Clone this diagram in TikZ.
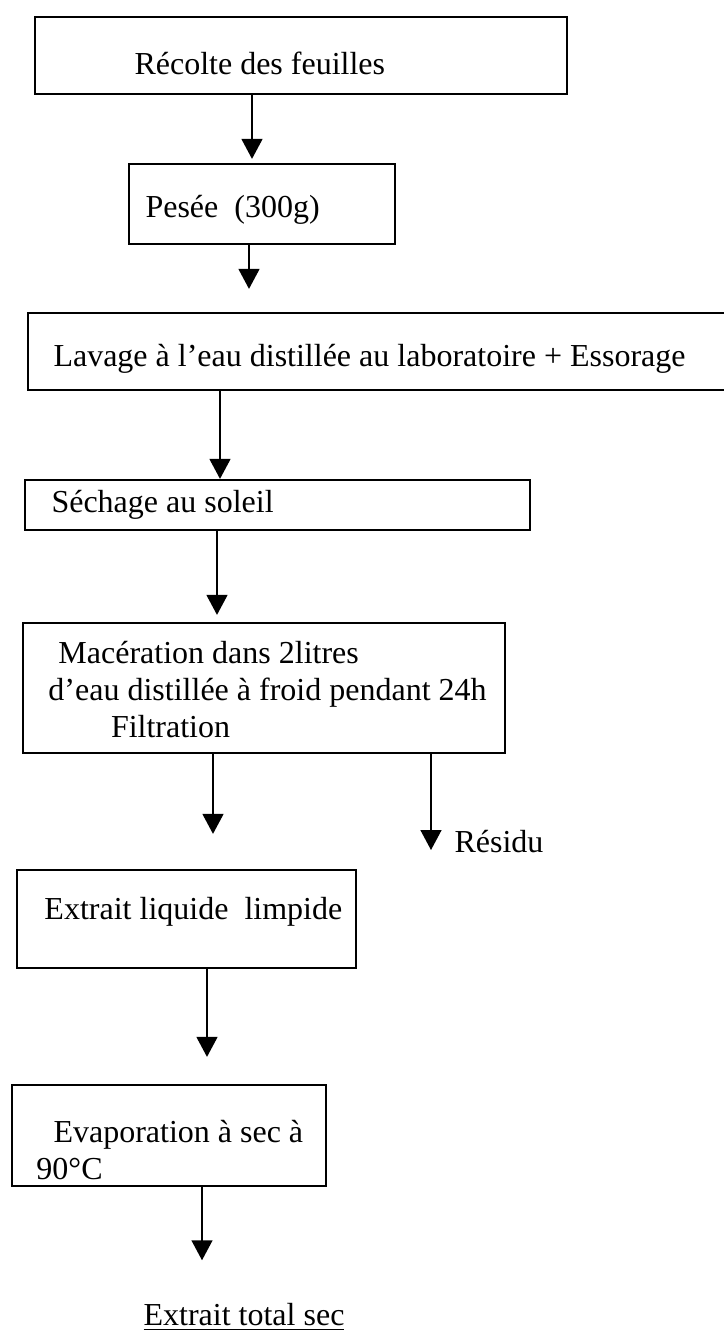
\documentclass[tikz,border=0pt]{standalone}
\usepackage{fontspec}
\setmainfont{Liberation Serif}
\usetikzlibrary{arrows.meta, fit}

\begin{document}
\begin{tikzpicture}[x=0.4pt, y=-0.4pt,
  txt/.style={font=\fontsize{12.8}{14.8}\selectfont, inner sep=0pt, anchor=west, align=left},
  stepbox/.style={draw, line width=0.9pt, inner sep=0pt},
  arr/.style={-{Triangle[width=8.4pt,length=8pt]}, line width=0.6pt}]
\useasboundingbox (0,0) rectangle (723,1333);
% les etapes
\node[stepbox, fit={(35,17) (567,94)}] (recolte) {};
\node[txt] (recolteT) at (134,63) {Récolte des feuilles};
\node[stepbox, fit={(129,164) (395,244)}] (pesee) {};
\node[txt] (peseeT) at (145,210) {Pesée\ \ (300g)};
\node[stepbox, fit={(28,313) (740,390)}] (lavage) {};
\node[txt] (lavageT) at (53,359) {Lavage à l’eau distillée au laboratoire + Essorage};
\node[stepbox, fit={(25,480) (530,530)}] (sechage) {};
\node[txt] (sechageT) at (51,505) {Séchage au soleil};
\node[stepbox, fit={(23,623) (505,753)}] (maceration) {};
\node[txt] (macerationT) at (48,690) {\hspace*{4pt}Macération dans 2litres\\d’eau distillée à froid pendant 24h\\\hspace*{25pt}Filtration};
\node[stepbox, fit={(17,870) (356,968)}] (extrait) {};
\node[txt] (extraitT) at (44,912) {Extrait liquide\ \ limpide};
\node[stepbox, fit={(12,1085) (326,1186)}] (evap) {};
\node[txt] (evapT) at (36,1150) {\hspace*{6.8pt}Evaporation à sec à\\90°C};
\node[txt] (residu) at (454,842) {Résidu};
\node[txt, anchor=center] (final) at (244,1317) {\underline{Extrait total sec}};
% les fleches
\coordinate (a1) at (252,0);
\coordinate (a2) at (249,0);
\coordinate (a3) at (220,0);
\coordinate (a4) at (217,0);
\coordinate (a5) at (213,0);
\coordinate (a6) at (207,0);
\coordinate (a7) at (202,0);
\coordinate (res) at (431,850);
\draw[arr, shorten >=1.6pt] (recolte.south -| a1) -- (pesee.north -| a1);
\draw[arr, shorten >=9.2pt] (pesee.south -| a2) -- (lavage.north -| a2);
\draw[arr] (lavage.south -| a3) -- (sechage.north -| a3);
\draw[arr, shorten >=2.8pt] (sechage.south -| a4) -- (maceration.north -| a4);
\draw[arr, shorten >=14pt] (maceration.south -| a5) -- (extrait.north -| a5);
\draw[arr] (maceration.south -| res) -- (res);
\draw[arr, shorten >=10.8pt] (extrait.south -| a6) -- (evap.north -| a6);
\draw[arr, shorten >=17pt] (evap.south -| a7) -- (final.north -| a7);
\end{tikzpicture}
\end{document}
